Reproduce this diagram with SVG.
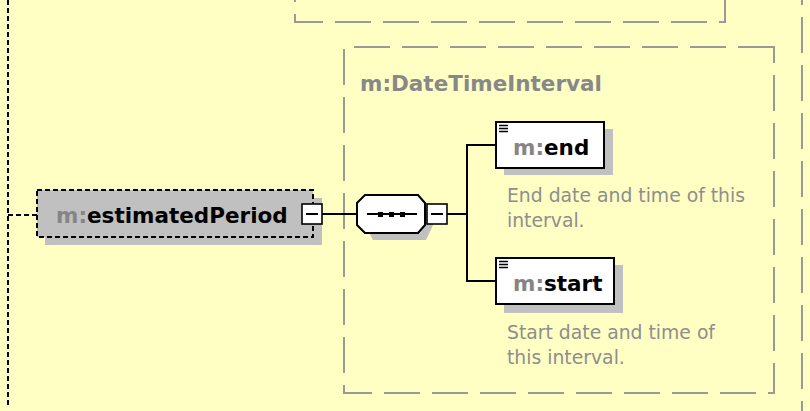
<svg xmlns="http://www.w3.org/2000/svg" width="810" height="411" viewBox="0 0 810 411">
<defs>
<style>
.bg{fill:#FFFFC4}
.gdash{fill:none;stroke:#9A9A9A;stroke-width:2;stroke-dasharray:36 12}
.kdash{fill:none;stroke:#000;stroke-width:2;stroke-dasharray:5 3}
.nodebox{fill:#C0C0C0;stroke:#000;stroke-width:2;stroke-dasharray:5 3}
.shadow{fill:#C0C0C0}
.box{fill:#fff;stroke:#000;stroke-width:2}
.btn{fill:#fff;stroke:#000;stroke-width:1.6}
.line{fill:none;stroke:#000;stroke-width:2}
.bold{font-family:"DejaVu Sans",Verdana,sans-serif;font-weight:bold;font-size:21.5px}
.pre{fill:#858585}
.name{fill:#000}
.title{font-family:"DejaVu Sans",Verdana,sans-serif;font-weight:bold;font-size:21.5px;fill:#888}
.desc{font-family:"DejaVu Sans",Verdana,sans-serif;font-size:18.8px;fill:#8E8E8E}
</style>
</defs>
<rect x="0" y="0" width="810" height="411" class="bg"/>

<g id="outer-frames">
<path class="gdash" d="M295,-100 V22 H725 V-100" stroke-dashoffset="30"/>
<path class="gdash" d="M802,0 V411" stroke-dashoffset="31"/>
<path class="kdash" d="M8,0 V405"/>
</g>

<g id="DateTimeInterval">
<path class="gdash" d="M774,47 H344 V393 H774 Z"/>
<text class="title" x="360" y="91">m:DateTimeInterval</text>
</g>

<g id="connectors">
<path class="kdash" d="M8,215 H37"/>
<path class="line" d="M322,214 H357"/>
<path class="line" d="M447,214 H467"/>
<path class="line" d="M496,145 H467 V281 H496"/>
</g>

<g id="estimatedPeriod">
<rect class="shadow" x="45" y="198" width="277" height="47"/>
<rect class="nodebox" x="37" y="190" width="276" height="47"/>
<text class="bold" x="56" y="223"><tspan class="pre">m:</tspan><tspan class="name">estimatedPeriod</tspan></text>
<rect class="btn" x="302" y="204" width="20" height="20"/>
<path class="line" d="M306,214 H318" stroke-width="1.6"/>
</g>

<g id="sequence">
<path class="shadow" d="M373,202 H426 L433,209 V225 L426,240 H373 L365,225 Z"/>
<path d="M365,195 H418 L425,203 V225 L418,233 H365 L357,225 V203 Z" fill="#fff" stroke="#000" stroke-width="2"/>
<path class="line" d="M367,214 H417" stroke-width="1.6"/>
<rect x="378" y="212" width="5" height="5" fill="#000"/>
<rect x="389" y="212" width="5" height="5" fill="#000"/>
<rect x="400" y="212" width="5" height="5" fill="#000"/>
<rect class="btn" x="427" y="204" width="20" height="20"/>
<path class="line" d="M431,214 H443" stroke-width="1.6"/>
</g>

<g id="end">
<rect class="shadow" x="504" y="129" width="109" height="46"/>
<rect class="box" x="496" y="122" width="108" height="46"/>
<path d="M499,125.5 H508 M499,128.5 H508 M499,131.5 H508" stroke="#000" stroke-width="1.3"/>
<text class="bold" x="513" y="155"><tspan class="pre">m:</tspan><tspan class="name">end</tspan></text>
<text class="desc" x="507" y="202">End date and time of this</text>
<text class="desc" x="507" y="227">interval.</text>
</g>

<g id="start">
<rect class="shadow" x="504" y="265" width="119" height="48"/>
<rect class="box" x="496" y="258" width="118" height="46"/>
<path d="M499,261.5 H508 M499,264.5 H508 M499,267.5 H508" stroke="#000" stroke-width="1.3"/>
<text class="bold" x="513" y="291"><tspan class="pre">m:</tspan><tspan class="name">start</tspan></text>
<text class="desc" x="507" y="339">Start date and time of</text>
<text class="desc" x="507" y="364">this interval.</text>
</g>
</svg>
